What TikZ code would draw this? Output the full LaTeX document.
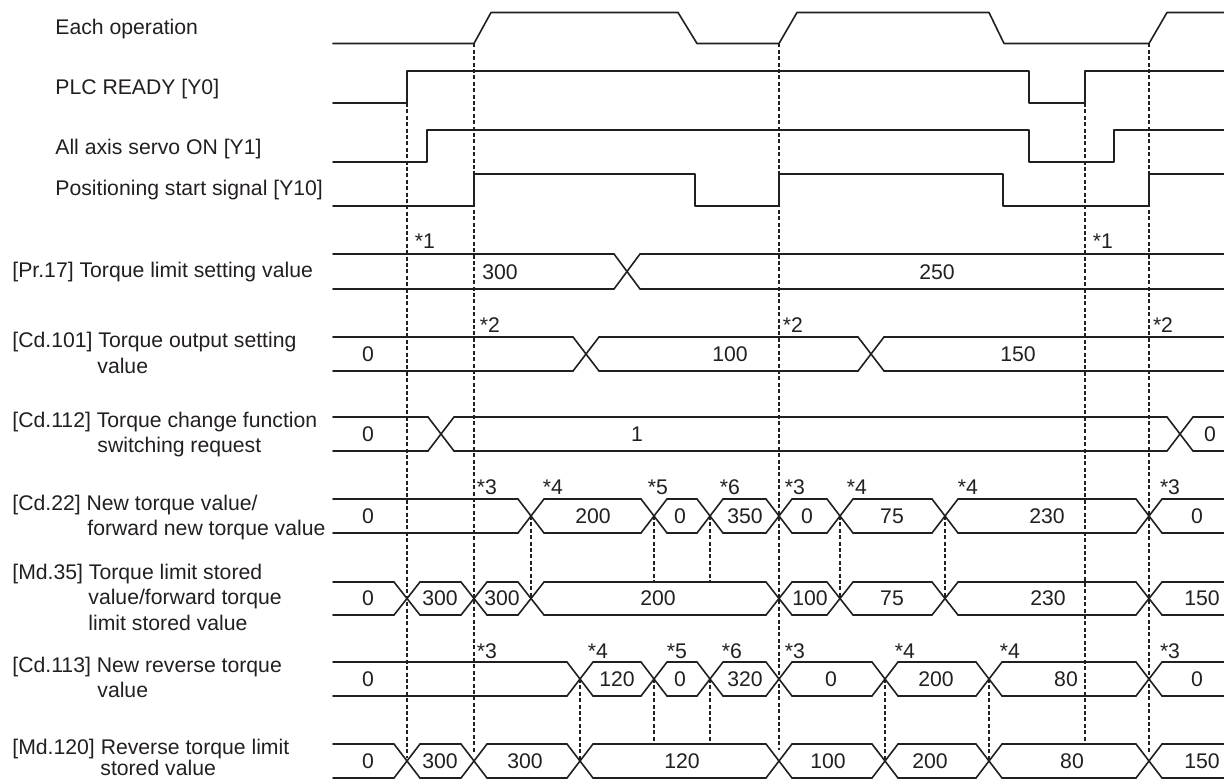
\documentclass[tikz,border=0pt]{standalone}
\usepackage{fontspec}
\setmainfont{Liberation Sans}
\definecolor{ink}{HTML}{231F20}
\newcommand\busrow[3]{%
  \foreach \c [remember=\c as \p (initially -1000)] in {#3,2000}{%
    \pgfmathsetmacro\xa{max(333,\p+13)}%
    \pgfmathsetmacro\xb{min(1224,\c-13)}%
    \draw[sig] (\xa,#1) -- (\xb,#1) (\xa,#2) -- (\xb,#2);%
    \ifnum\c<1500 \draw[sig] (\c-13,#1) -- (\c+13,#2) (\c-13,#2) -- (\c+13,#1);\fi
  }}
\newcommand\busvals[3]{%
  \foreach \x/\t [count=\i] in {#3}{\node[lbl] (#1v\i) at (\x,#2) {\t};}}
\newcommand\notes[3]{%
  \foreach \x/\t [count=\i] in {#3}{\node[lbl] (#1n\i) at (\x,#2) {*\t};}}
\begin{document}
\begin{tikzpicture}[x=0.5pt,y=-0.5pt,
  sig/.style={line width=0.8pt,draw=ink,line cap=round,line join=round},
  guide/.style={line width=0.75pt,draw=ink,dash pattern=on 2pt off 1.2pt},
  lbl/.style={inner sep=0pt,text height=7.6pt,text depth=0pt,
    font=\fontsize{10.6}{12}\selectfont,text=ink},
  rowlabel/.style={lbl,anchor=west}]
\useasboundingbox (0,0) rectangle (1224,780);

% ---- row labels
\node[rowlabel] (Lop) at (55,27) {Each operation};
\node[rowlabel] (Lplc) at (55,87) {PLC READY [Y0]};
\node[rowlabel] (Lsrv) at (55,147) {All axis servo ON [Y1]};
\node[rowlabel] (Lst) at (55,188) {Positioning start signal [Y10]};
\node[rowlabel] (Lpr) at (12,270) {[Pr.17] Torque limit setting value};
\node[rowlabel] (Lcd1) at (12,340) {[Cd.101] Torque output setting};
\node[rowlabel] (Lcd1b) at (97,366) {value};
\node[rowlabel] (Lcd2) at (12,420) {[Cd.112] Torque change function};
\node[rowlabel] (Lcd2b) at (97,445) {switching request};
\node[rowlabel] (Lcd3) at (12,503) {[Cd.22] New torque value/};
\node[rowlabel] (Lcd3b) at (87,528) {forward new torque value};
\node[rowlabel] (Lmd1) at (12,572) {[Md.35] Torque limit stored};
\node[rowlabel] (Lmd1b) at (88,597) {value/forward torque};
\node[rowlabel] (Lmd1c) at (88,623) {limit stored value};
\node[rowlabel] (Lcd4) at (12,665) {[Cd.113] New reverse torque};
\node[rowlabel] (Lcd4b) at (97,690) {value};
\node[rowlabel] (Lmd2) at (12,747) {[Md.120] Reverse torque limit};
\node[rowlabel] (Lmd2b) at (100,768) {stored value};

% ---- dashed timing guides
\draw[guide] (407,71) -- (407,758);
\draw[guide] (474,43.5) -- (474,753);
\draw[guide] (779,43.5) -- (779,750);
\draw[guide] (1085,103) -- (1085,744);
\draw[guide] (1149,43.5) -- (1149,753);
\draw[guide] (531,516) -- (531,598);
\draw[guide] (654,516) -- (654,582);
\draw[guide] (710,516) -- (710,582);
\draw[guide] (840,516) -- (840,598);
\draw[guide] (945,516) -- (945,598);
\draw[guide] (580,679) -- (580,761);
\draw[guide] (654,679) -- (654,744);
\draw[guide] (710,679) -- (710,744);
\draw[guide] (885,679) -- (885,761);
\draw[guide] (989,679) -- (989,761);

% ---- bit signals
\draw[sig] (333,43.5) -- (474,43.5) -- (491,12.5) -- (678,12.5) -- (697,43.5)
  -- (779,43.5) -- (797,12.5) -- (989,12.5) -- (1004,43.5) -- (1149,43.5)
  -- (1167,12.5) -- (1224,12.5);
\draw[sig] (333,103) -- (407,103) -- (407,71) -- (1029,71) -- (1029,103)
  -- (1085,103) -- (1085,71) -- (1224,71);
\draw[sig] (333,162) -- (427,162) -- (427,130) -- (1029,130) -- (1029,162)
  -- (1114,162) -- (1114,130) -- (1224,130);
\draw[sig] (333,206) -- (474,206) -- (474,174) -- (695,174) -- (695,206)
  -- (779,206) -- (779,174) -- (1003,174) -- (1003,206) -- (1149,206)
  -- (1149,174) -- (1224,174);

% ---- value buses
\busrow{254}{289}{627}
\busrow{337}{371}{586,871}
\busrow{417}{451}{441,1180}
\busrow{499}{533}{531,654,710,779,840,945,1149}
\busrow{582}{615}{407,474,531,779,840,945,1149}
\busrow{662}{696}{580,654,710,779,885,989,1149}
\busrow{744}{778}{407,474,580,779,885,989,1149}

\busvals{pr}{271.5}{500/300,937/250}
\busvals{cda}{354}{368/0,730/100,1018/150}
\busvals{cdb}{434}{368/0,637/1,1210/0}
\busvals{cdc}{516}{368/0,593/200,680/0,745/350,807/0,892/75,1047/230,1197/0}
\busvals{mda}{598}{368/0,440/300,502/300,658/200,810/100,892/75,1048/230,1202/150}
\busvals{cdd}{679}{368/0,617/120,680/0,745/320,831/0,936/200,1066/80,1197/0}
\busvals{mdb}{761}{368/0,440/300,525/300,682/120,828/100,930/200,1072/80,1202/150}

% ---- notes
\notes{a}{241}{425/1,1103/1}
\notes{b}{325}{490/2,793/2,1163/2}
\notes{c}{487}{487/3,553/4,658/5,730/6,795/3,857/4,968/4,1170/3}
\notes{d}{651}{487/3,598/4,677/5,732/6,795/3,905/4,1010/4,1170/3}
\end{tikzpicture}
\end{document}
